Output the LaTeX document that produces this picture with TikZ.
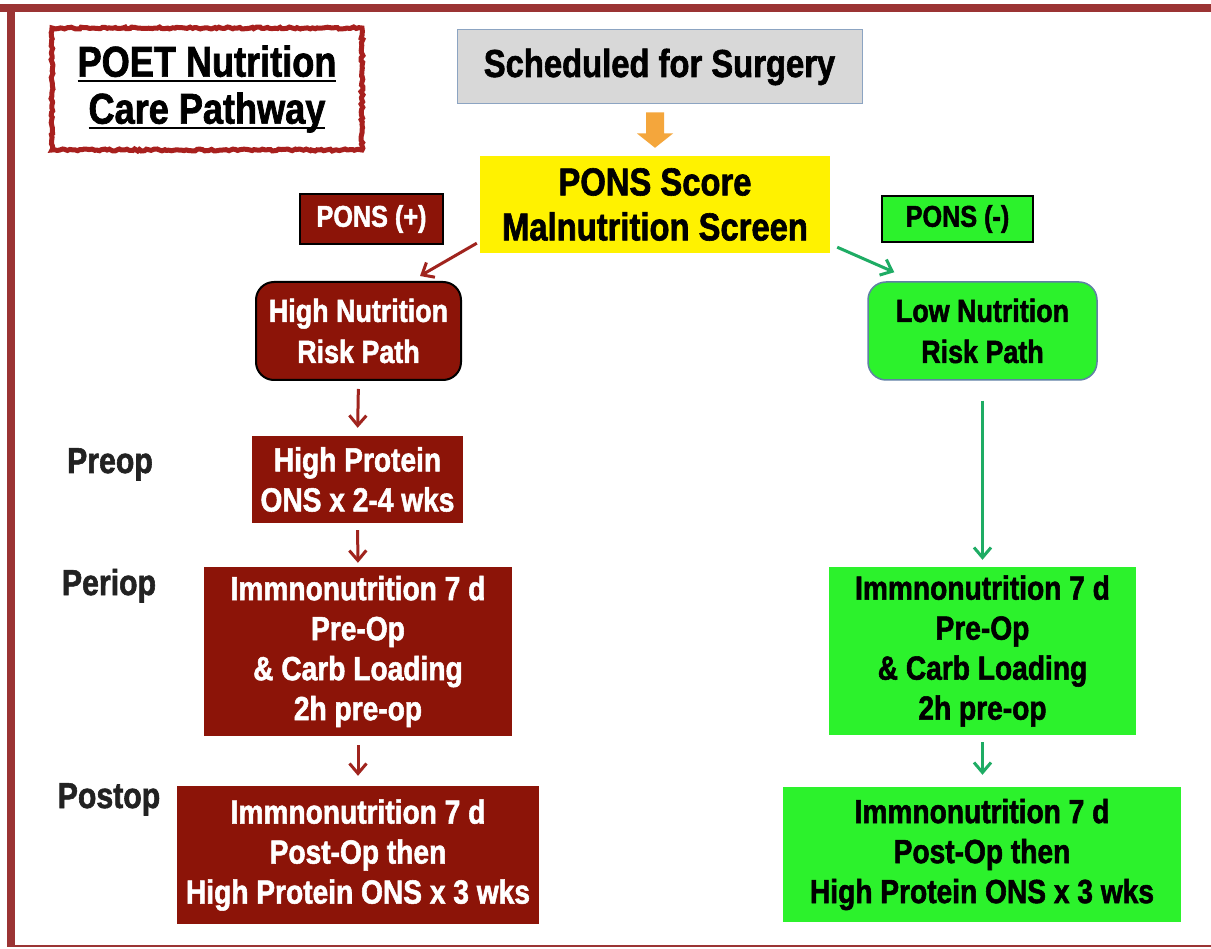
\documentclass[tikz,border=0pt]{standalone}
\usepackage{fontspec}
\setmainfont{Liberation Sans}[FakeStretch=0.84,BoldFeatures={FakeBold=1.6}]
\newcommand{\thickul}[1]{\setbox0\hbox{#1}\rlap{\rule[-5.5pt]{\wd0}{2.6pt}}\box0}
\usetikzlibrary{arrows.meta,calc,decorations.pathmorphing}
\definecolor{framered}{RGB}{155,52,52}
\definecolor{titlered}{RGB}{168,32,30}
\definecolor{pathred}{RGB}{140,20,8}
\definecolor{pathgreen}{RGB}{44,242,44}
\definecolor{arrowred}{RGB}{160,36,30}
\definecolor{arrowgreen}{RGB}{30,172,100}
\definecolor{blockorange}{RGB}{244,166,60}
\definecolor{schedgray}{RGB}{216,216,216}
\definecolor{edgeblue}{RGB}{140,164,194}
\definecolor{lowedge}{RGB}{96,128,165}
\definecolor{labelgray}{RGB}{34,34,34}
\begin{document}
\begin{tikzpicture}[x=1pt,y=-1pt,
  txt/.style={inner sep=0pt,align=center},
  bigfont/.style={font=\fontsize{39}{45}\selectfont\bfseries},
  boxfont/.style={font=\fontsize{33.5}{40}\selectfont\bfseries},
  riskfont/.style={font=\fontsize{32}{41}\selectfont\bfseries},
  redbox/.style={txt,boxfont,fill=pathred,text=white},
  greenbox/.style={txt,boxfont,fill=pathgreen,text=black},
  stagelabel/.style={inner sep=0pt,anchor=base,text=labelgray,font=\fontsize{36}{40}\selectfont\bfseries},
  redarrow/.style={draw=arrowred,line width=3pt,-{Straight Barb[length=10pt,width=17pt]}},
  greenarrow/.style={draw=arrowgreen,line width=3pt,-{Straight Barb[length=10pt,width=17pt]}}]
\pgfmathsetseed{7}
\useasboundingbox (0,0) rectangle (1211,949);
\fill[white] (0,0) rectangle (1211,949);
% frame
\fill[framered] (0,4) rectangle (1211,12.5);
\fill[framered] (7,12) rectangle (14.5,947);
\fill[framered] (7,944.5) rectangle (1211,947);
% title
\node[txt,minimum width=310pt,minimum height=122pt,font=\fontsize{43}{45}\selectfont\bfseries,
  postaction={draw=titlered,line width=5pt,decorate,decoration={random steps,segment length=2.5pt,amplitude=1pt}}]
  (title) at (207,89) {\thickul{POET Nutrition}\\[2pt]\thickul{Care Pathway}};
% top of the pathway
\node[txt,bigfont,fill=schedgray,draw=edgeblue,line width=1pt,minimum width=405pt,minimum height=74pt]
  (sched) at (659.5,67) {Scheduled for Surgery};
\node[txt,bigfont,fill=yellow,minimum width=350pt,minimum height=97pt]
  (pons) at (655,204.5) {PONS Score\\Malnutrition Screen};
\coordinate (otop) at ($(pons.north |- sched.south)+(0,8)$);
\fill[blockorange] ($(otop)+(-9,0)$) -- ($(otop)+(9,0)$) -- ($(otop)+(9,21)$) -- ($(otop)+(18,21)$)
  -- ($(pons.north)+(0,-8)$) -- ($(otop)+(-18,21)$) -- ($(otop)+(-9,21)$) -- cycle;
\node[txt,font=\fontsize{30}{34}\selectfont\bfseries,fill=pathred,text=white,draw=black,line width=1.5pt,
  minimum width=143pt,minimum height=50pt] (plus) at (371.5,219) {PONS (+)};
\node[txt,font=\fontsize{30}{34}\selectfont\bfseries,fill=pathgreen,draw=black,line width=2pt,
  minimum width=151pt,minimum height=46pt] (minus) at (957.5,219) {PONS (-)};
% risk paths
\node[redbox,riskfont,draw=black,line width=2pt,rounded corners=18pt,minimum width=205pt,minimum height=98pt]
  (high) at (358.5,331) {High Nutrition\\Risk Path};
\node[greenbox,riskfont,draw=lowedge,line width=1.5pt,rounded corners=18pt,minimum width=229pt,minimum height=98pt]
  (low) at (982.5,331) {Low Nutrition\\Risk Path};
\draw[redarrow] ([shift={(-3,-10)}]pons.south west) -- ([shift={(-42,-5)}]high.north east);
\draw[greenarrow] ([shift={(7,-6)}]pons.south east) -- ([shift={(27,-9)}]low.north west);
% stages
\node[stagelabel] (preop) at (110,473) {Preop};
\node[stagelabel] (periop) at (109,595) {Periop};
\node[stagelabel] (postop) at (109,808) {Postop};
\node[redbox,minimum width=211pt,minimum height=87pt] (protein) at (357.5,479.5) {High Protein\\ONS x 2-4 wks};
\node[redbox,minimum width=308pt,minimum height=169pt] (rperi) at (358,651.5)
  {Immnonutrition 7 d\\Pre-Op\\\& Carb Loading\\2h pre-op};
\node[redbox,minimum width=362pt,minimum height=138pt] (rpost) at (358,855)
  {Immnonutrition 7 d\\Post-Op then\\High Protein ONS x 3 wks};
\node[greenbox,minimum width=307pt,minimum height=168pt] (gperi) at (982.5,651)
  {Immnonutrition 7 d\\Pre-Op\\\& Carb Loading\\2h pre-op};
\node[greenbox,minimum width=398pt,minimum height=135pt] (gpost) at (982,854.5)
  {Immnonutrition 7 d\\Post-Op then\\High Protein ONS x 3 wks};
\draw[redarrow,shorten <=8pt,shorten >=8pt] (high.south) -- (protein.north);
\draw[redarrow,shorten <=7pt,shorten >=4pt] (protein.south) -- (rperi.north);
\draw[redarrow,shorten <=9pt,shorten >=10pt] (rperi.south) -- (rpost.north);
\draw[greenarrow,shorten <=20pt,shorten >=7pt] (low.south) -- (low.south |- gperi.north);
\draw[greenarrow,shorten <=7pt,shorten >=12pt] (gperi.south) -- (gperi.south |- gpost.north);
\end{tikzpicture}
\end{document}
